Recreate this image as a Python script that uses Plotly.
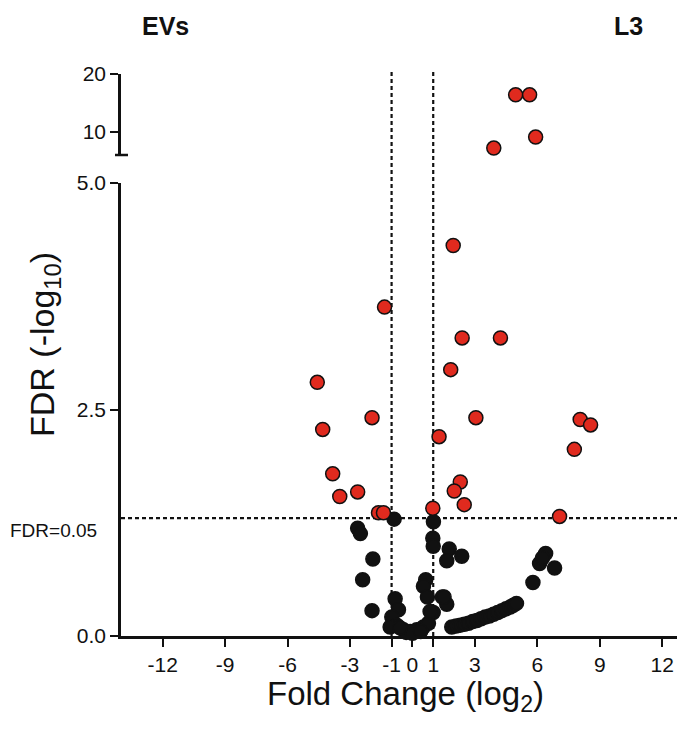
import plotly.graph_objects as go

# ---------------- data ----------------
# significant (red) points: log2 fold change, -log10 FDR
red_x_low = [-1.34, -4.57, -1.94, -4.31, -3.83, -2.63, -3.49, -1.63, -1.39,
             1.96, 2.39, 4.23, 1.84, 3.05, 8.06, 8.56, 1.28, 7.78, 2.30, 2.01, 2.49, 0.98, 7.07]
red_y_low = [3.63, 2.80, 2.41, 2.28, 1.79, 1.59, 1.54, 1.36, 1.36,
             4.31, 3.29, 3.29, 2.94, 2.41, 2.39, 2.33, 2.20, 2.06, 1.70, 1.60, 1.45, 1.41, 1.32]
red_x_high = [4.96, 5.63, 5.92, 3.91]
red_y_high = [16.4, 16.4, 9.1, 7.2]

# non-significant (black) points
black_x = [-0.88, 1.01, -2.63, -2.50, 0.98, 1.00, 1.77, 2.37, 1.65, -1.90, -2.39, 0.64, 0.53,
           -0.83, 0.72, 1.44, 1.65, -1.94, -0.67, -0.99, 1.00, -0.75, -0.43, -0.10, 0.21,
           0.53, 0.77, 0.85, -1.07, -0.30, 0.00, 0.40, -0.60, 1.52,
           5.79, 6.11, 6.40, 6.83, 6.25,
           1.89, 2.10, 2.30, 2.50, 2.70, 2.90, 3.10, 3.30, 3.50, 3.70, 3.90, 4.10, 4.30,
           4.50, 4.70, 4.85, 5.00]
black_y = [1.29, 1.26, 1.19, 1.13, 1.08, 0.99, 0.96, 0.88, 0.83, 0.85, 0.62, 0.62, 0.55,
           0.41, 0.43, 0.43, 0.35, 0.28, 0.29, 0.21, 0.26, 0.12, 0.07, 0.05, 0.07,
           0.10, 0.14, 0.27, 0.10, 0.04, 0.03, 0.05, 0.09, 0.43,
           0.59, 0.80, 0.91, 0.75, 0.86,
           0.10, 0.11, 0.12, 0.13, 0.14, 0.16, 0.17, 0.19, 0.21, 0.22, 0.24, 0.26, 0.28,
           0.30, 0.32, 0.34, 0.36]

x_ticks = [-12, -9, -6, -3, -1, 0, 1, 3, 6, 9, 12]
y_low_ticks = [0.0, 2.5, 5.0]
y_low_labels = ["0.0", "2.5", "5.0"]
y_high_ticks = [10, 20]
fc_cut = [-1, 1]
fdr_cut = 1.301

# ---------------- figure ----------------
marker_red = dict(size=14, color="#e02a1e", line=dict(color="#111111", width=1.5))
marker_blk = dict(size=14, color="#111111", line=dict(color="#111111", width=1.5))

fig = go.Figure()
fig.add_trace(go.Scatter(x=black_x, y=black_y, mode="markers", marker=marker_blk,
                         cliponaxis=False, showlegend=False, xaxis="x", yaxis="y"))
fig.add_trace(go.Scatter(x=red_x_low, y=red_y_low, mode="markers", marker=marker_red,
                         cliponaxis=False, showlegend=False, xaxis="x", yaxis="y"))
fig.add_trace(go.Scatter(x=red_x_high, y=red_y_high, mode="markers", marker=marker_red,
                         cliponaxis=False, showlegend=False, xaxis="x", yaxis="y2"))

# page has an 8px body margin, so the figure is drawn 8px smaller
W, H = 677, 731
L, R, T, B = 113, 2, 66, 103
pw = W - L - R
ph = H - T - B
# page coordinates of the reference plot area
PX0, PY0 = 121, 636
low_top = (PY0 - 183) / ph
high_bot = (PY0 - 155) / ph

def px(x):
    return (x - PX0) / pw

def py(y):
    return (PY0 - y) / ph

FONT = "Liberation Sans, Arial, Helvetica, sans-serif"
tickfont = dict(family=FONT, size=21, color="#111111")
axis_common = dict(showgrid=False, zeroline=False, showline=True, linecolor="#111111",
                   linewidth=2.5, ticks="outside", ticklen=8, tickwidth=2.2,
                   tickcolor="#111111", tickfont=tickfont, automargin=False)

fig.update_layout(
    width=W, height=H,
    margin=dict(l=L, r=R, t=T, b=B),
    paper_bgcolor="white", plot_bgcolor="white",
    xaxis=dict(range=[-14, 13], tickvals=x_ticks, ticktext=[str(v) for v in x_ticks],
               anchor="y", **axis_common),
    yaxis=dict(domain=[0, low_top], range=[0, 5], tickvals=y_low_ticks, ticktext=y_low_labels,
               anchor="x", **axis_common),
    yaxis2=dict(domain=[high_bot, 1], range=[6, 20], tickvals=y_high_ticks,
                ticktext=[str(v) for v in y_high_ticks], anchor="x", **axis_common),
)

dash_line = dict(color="#111111", width=2.2, dash="4px,3px")
for xv in fc_cut:
    fig.add_shape(type="line", xref="x", yref="paper", x0=xv, x1=xv, y0=0, y1=py(72),
                  line=dash_line, layer="below")
fig.add_shape(type="line", xref="paper", yref="y", x0=0, x1=1, y0=fdr_cut, y1=fdr_cut,
              line=dash_line, layer="below")
# end cap of the upper axis segment
fig.add_shape(type="line", xref="paper", yref="paper", x0=-6 / pw, x1=7 / pw,
              y0=high_bot, y1=high_bot, line=dict(color="#111111", width=2.5))

fig.add_annotation(text="FDR=0.05", xref="paper", yref="paper", x=px(8), y=py(530),
                   xanchor="left", yanchor="middle", showarrow=False,
                   font=dict(family=FONT, size=19, color="#111111"))
fig.add_annotation(text="FDR (-log<sub>10</sub>)", xref="paper", yref="paper",
                   x=px(45), y=py(345), textangle=-90,
                   xanchor="center", yanchor="middle", showarrow=False,
                   font=dict(family=FONT, size=34, color="#111111"))
fig.add_annotation(text="Fold Change (log<sub>2</sub>)", xref="paper", yref="paper",
                   x=px(405), y=py(696),
                   xanchor="center", yanchor="middle", showarrow=False,
                   font=dict(family=FONT, size=33, color="#111111"))
title_font = dict(family=FONT, size=25, color="#111111")
fig.add_annotation(text="<b>EVs</b>", xref="paper", yref="paper",
                   x=px(165), y=py(26),
                   xanchor="center", yanchor="middle", showarrow=False, font=title_font)
fig.add_annotation(text="<b>L3</b>", xref="paper", yref="paper",
                   x=px(628), y=py(26),
                   xanchor="center", yanchor="middle", showarrow=False, font=title_font)

fig.write_html("out.html")
